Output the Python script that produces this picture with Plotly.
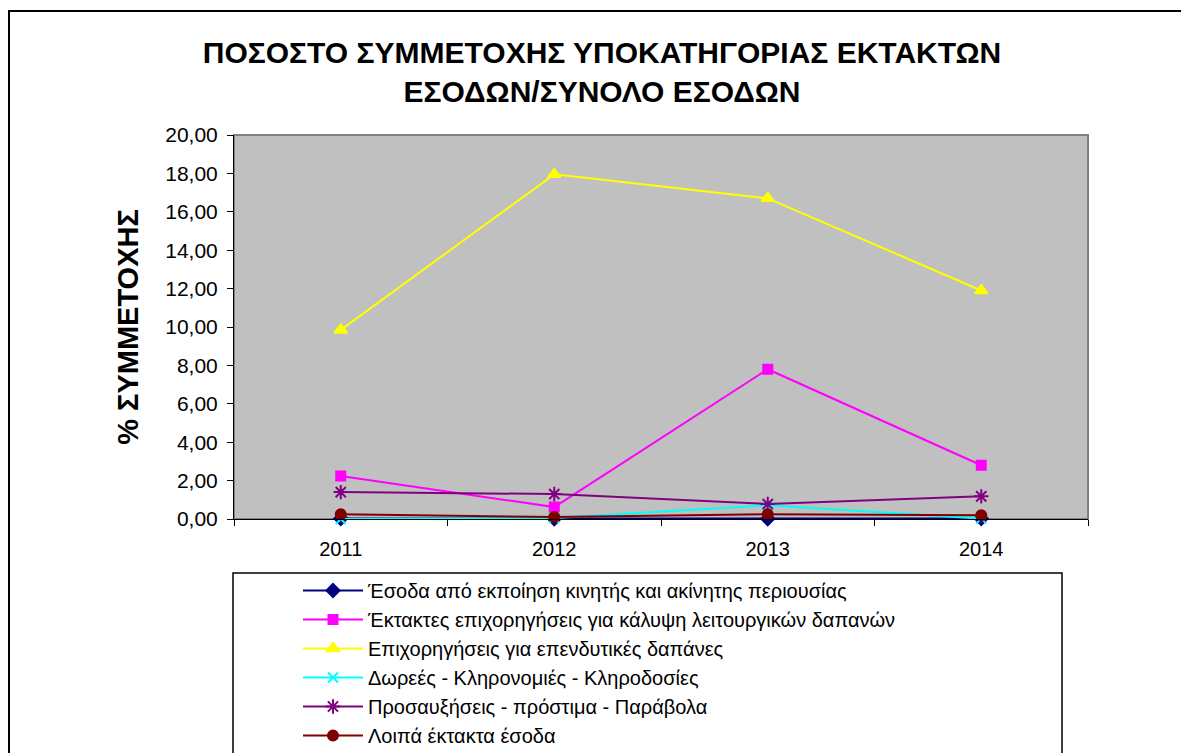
import plotly.graph_objects as go

# Years on the category axis
years = ["2011", "2012", "2013", "2014"]

# Share (%) of each extraordinary-income subcategory in total income
esoda_ekpoiisi = [0.02, 0.01, 0.01, 0.02]
ektaktes_epixorigiseis = [2.24, 0.62, 7.80, 2.80]
epixorigiseis_ependytikes = [9.85, 17.95, 16.70, 11.90]
doreas_klironomies = [0.00, 0.05, 0.72, 0.02]
prosafxiseis_prostima = [1.40, 1.30, 0.78, 1.18]
loipa_ektakta = [0.25, 0.10, 0.25, 0.20]

y_tick_vals = [0, 2, 4, 6, 8, 10, 12, 14, 16, 18, 20]
y_tick_text = ["0,00", "2,00", "4,00", "6,00", "8,00", "10,00",
               "12,00", "14,00", "16,00", "18,00", "20,00"]

series = [
    ("Έσοδα από εκποίηση κινητής και ακίνητης περιουσίας", esoda_ekpoiisi,
     "#000080", "diamond", 10),
    ("Έκτακτες επιχορηγήσεις για κάλυψη λειτουργικών δαπανών", ektaktes_epixorigiseis,
     "#FF00FF", "square", 9),
    ("Επιχορηγήσεις για επενδυτικές δαπάνες", epixorigiseis_ependytikes,
     "#FFFF00", "triangle-up", 11),
    ("Δωρεές - Κληρονομιές - Κληροδοσίες", doreas_klironomies,
     "#00FFFF", "x-thin-open", 10),
    ("Προσαυξήσεις - πρόστιμα - Παράβολα", prosafxiseis_prostima,
     "#800080", "asterisk-open", 12),
    ("Λοιπά έκτακτα έσοδα", loipa_ektakta,
     "#800000", "circle", 10),
]

FONT = "Liberation Sans, Arial, sans-serif"

fig = go.Figure()
for name, vals, color, symbol, size in series:
    fig.add_trace(go.Scatter(
        x=years, y=vals, name=name, mode="lines+markers",
        line=dict(color=color, width=2),
        marker=dict(color=color, symbol=symbol, size=size,
                    line=dict(color=color, width=2)),
        cliponaxis=False,
    ))

W, H = 1181, 753
L, R, T, B = 234, 1088, 135, 519
pw, ph = R - L, B - T

def px_x(x):
    return (x - L) / pw

def px_y(y):
    return (B - y) / ph

fig.update_layout(
    width=W, height=H,
    margin=dict(l=L, r=W - R, t=T, b=H - B, pad=0, autoexpand=False),
    paper_bgcolor="white",
    plot_bgcolor="#C0C0C0",
    font=dict(family=FONT, color="black"),
    title=dict(
        text="ΠΟΣΟΣΤΟ ΣΥΜΜΕΤΟΧΗΣ ΥΠΟΚΑΤΗΓΟΡΙΑΣ ΕΚΤΑΚΤΩΝ<br>ΕΣΟΔΩΝ/ΣΥΝΟΛΟ ΕΣΟΔΩΝ",
        font=dict(family=FONT, size=30, color="black", weight="bold"),
        x=px_x(602), xanchor="center", xref="paper",
        y=1 - 63 / H, yanchor="middle", yref="container",
    ),
    showlegend=True,
    legend=dict(
        x=px_x(298), y=px_y(571), xanchor="left", yanchor="top",
        bgcolor="rgba(0,0,0,0)", borderwidth=0,
        font=dict(family=FONT, size=20, color="black"),
        tracegroupgap=0, itemwidth=60,
    ),
    xaxis=dict(
        type="category", showgrid=False, zeroline=False,
        showline=True, linecolor="black", linewidth=1,
        ticks="outside", tickson="boundaries", ticklen=6, tickcolor="black",
        tickfont=dict(family=FONT, size=20, color="black"),
        ticklabelstandoff=12,
        range=[-0.5, 3.5],
    ),
    yaxis=dict(
        range=[0, 20], showgrid=False, zeroline=False,
        showline=True, linecolor="black", linewidth=1,
        ticks="outside", ticklen=6, tickcolor="black",
        tickvals=y_tick_vals, ticktext=y_tick_text,
        tickfont=dict(family=FONT, size=21, color="black"),
        ticklabelstandoff=5,
        title=dict(text="% ΣΥΜΜΕΤΟΧΗΣ", standoff=18,
                   font=dict(family=FONT, size=29, color="black", weight="bold")),
    ),
    shapes=[
        # grey frame on top/right of the plotting area
        dict(type="rect", xref="paper", yref="paper", x0=0, x1=1, y0=0, y1=1,
             line=dict(color="#808080", width=2), layer="below"),
        # outer chart frame
        dict(type="rect", xref="paper", yref="paper",
             x0=px_x(9), x1=px_x(1200), y0=px_y(770), y1=px_y(11),
             line=dict(color="black", width=2)),
        # legend box
        dict(type="rect", xref="paper", yref="paper",
             x0=px_x(233), x1=px_x(1062), y0=px_y(770), y1=px_y(573),
             line=dict(color="black", width=1.5)),
    ],
)

fig.write_html("out.html")
